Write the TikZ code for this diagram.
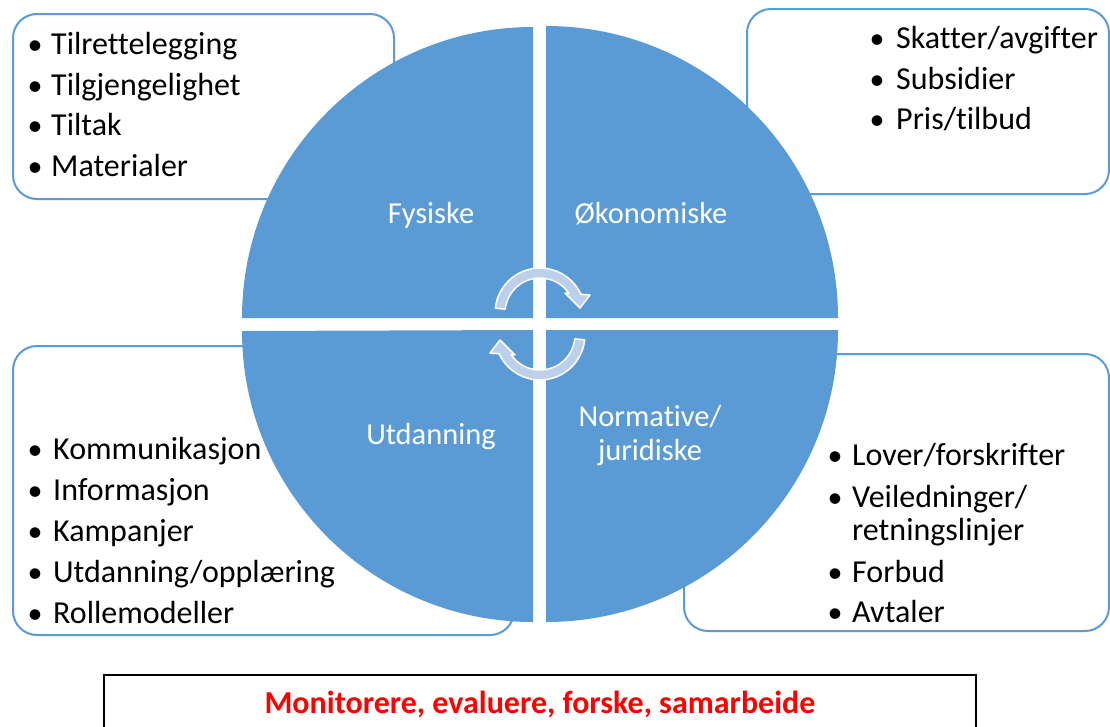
\documentclass[tikz,border=0pt]{standalone}
\usepackage{fontspec}
\setmainfont[Ligatures=NoCommon]{Carlito}
\definecolor{qblue}{HTML}{5B9BD5}
\definecolor{arrowfill}{HTML}{BDD0EB}
\definecolor{mred}{HTML}{FF0000}
\tikzset{
  box/.style={draw=qblue, line width=2pt, fill=white, rounded corners=24pt, anchor=north west, inner sep=0pt},
  quad/.style={fill=qblue},
  lbl/.style={text=white, font=\fontsize{30.5}{34}\selectfont, anchor=base, inner sep=0pt},
  item/.style={font=\fontsize{32}{40}\selectfont, anchor=base west, inner sep=0pt},
  bul/.style={font=\fontsize{30}{40}\selectfont, anchor=base, inner sep=0pt},
  cyc/.style={fill=arrowfill, draw=white, line width=1.5pt, line join=round},
}
\begin{document}
\begin{tikzpicture}[x=1pt, y=-1pt]
\useasboundingbox[fill=white] (0,0) rectangle (1110,726);

% text boxes (behind the circle)
\node[box, minimum width=381pt, minimum height=185pt] (boxTL) at (12,13) {};
\node[box, minimum width=362pt, minimum height=185pt] (boxTR) at (746,8) {};
\node[box, minimum width=501pt, minimum height=289pt] (boxBL) at (12,345) {};
\node[box, minimum width=425pt, minimum height=277pt] (boxBR) at (683,353) {};

% quadrants
\fill[quad] (533,318) -- (242,318) arc[start angle=180, end angle=270, radius=291] -- cycle;
\fill[quad] (546,318) -- (546,26) arc[start angle=270, end angle=360, radius=292] -- cycle;
\fill[quad] (533,330) -- (533,622) arc[start angle=90, end angle=180, radius=291] -- cycle;
\fill[quad] (546,330) -- (838,330) arc[start angle=0, end angle=90, radius=292] -- cycle;

% cycle arrows
\draw[cyc] (495.3,308.1) arc[start angle=186.3, end angle=335.4, radius=45]
  -- (590,295) -- (580,308) -- (565,293) -- (568.9,293.3)
  arc[start angle=325.7, end angle=186.3, radius=35] -- cycle;
\begin{scope}[rotate around={180:(540,324)}]
\draw[cyc] (495.3,308.1) arc[start angle=186.3, end angle=335.4, radius=45]
  -- (590,295) -- (580,308) -- (565,293) -- (568.9,293.3)
  arc[start angle=325.7, end angle=186.3, radius=35] -- cycle;
\end{scope}

% quadrant labels
\node[lbl] (lFys) at (431,223) {Fysiske};
\node[lbl] (lOko) at (651,223) {Økonomiske};
\node[lbl] (lUtd) at (431,444) {Utdanning};
\node[lbl] (lNor1) at (650,426) {Normative/};
\node[lbl] (lNor2) at (650,460) {juridiske};

% top-left list
\node[bul] (b11) at (35,54) {\textbullet};  \node[item] (t11) at (51,54) {Tilrettelegging};
\node[bul] (b12) at (35,95) {\textbullet};  \node[item] (t12) at (51,95) {Tilgjengelighet};
\node[bul] (b13) at (35,135) {\textbullet}; \node[item] (t13) at (51,135) {Tiltak};
\node[bul] (b14) at (35,176) {\textbullet}; \node[item] (t14) at (51,176) {Materialer};

% top-right list
\node[bul] (b21) at (877,48) {\textbullet};  \node[item] (t21) at (896,48) {Skatter/avgifter};
\node[bul] (b22) at (877,89) {\textbullet};  \node[item] (t22) at (896,89) {Subsidier};
\node[bul] (b23) at (877,129) {\textbullet}; \node[item] (t23) at (896,129) {Pris/tilbud};

% bottom-left list
\node[bul] (b31) at (35,459) {\textbullet}; \node[item] (t31) at (53,459) {Kommunikasjon};
\node[bul] (b32) at (35,500) {\textbullet}; \node[item] (t32) at (53,500) {Informasjon};
\node[bul] (b33) at (35,541) {\textbullet}; \node[item] (t33) at (53,541) {Kampanjer};
\node[bul] (b34) at (35,582) {\textbullet}; \node[item] (t34) at (53,582) {Utdanning/opplæring};
\node[bul] (b35) at (35,623) {\textbullet}; \node[item] (t35) at (53,623) {Rollemodeller};

% bottom-right list
\node[bul] (b41) at (835,465) {\textbullet}; \node[item] (t41) at (852,465) {Lover/forskrifter};
\node[bul] (b42) at (835,507) {\textbullet}; \node[item] (t42) at (852,507) {Veiledninger/};
\node[item] (t42b) at (852,540) {retningslinjer};
\node[bul] (b43) at (835,582) {\textbullet}; \node[item] (t43) at (852,582) {Forbud};
\node[bul] (b44) at (835,622) {\textbullet}; \node[item] (t44) at (852,622) {Avtaler};

% bottom box
\node[draw=black, line width=1.8pt, fill=white, anchor=north west, inner sep=0pt,
      minimum width=872pt, minimum height=70pt] (boxBot) at (103,674) {};
\node[text=mred, font=\bfseries\fontsize{32}{36}\selectfont, anchor=base, inner sep=0pt]
  (mon) at (540,713) {Monitorere, evaluere, forske, samarbeide};
\end{tikzpicture}
\end{document}
